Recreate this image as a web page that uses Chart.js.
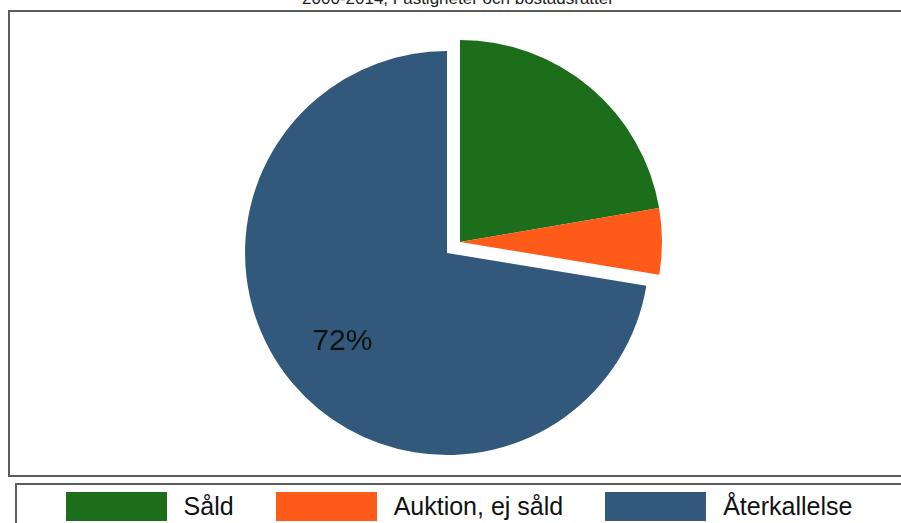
<!DOCTYPE html>
<html lang="sv">
<head>
<meta charset="utf-8">
<script src="https://cdn.jsdelivr.net/npm/chart.js@4"></script>
<style>
  html, body { margin: 0; padding: 0; background: #fff; overflow: hidden; }
  body { width: 901px; height: 523px; position: relative; font-family: "Liberation Sans", Arial, sans-serif; }
  #title { position: absolute; left: 0; width: 916px; top: -10px; text-align: center;
           font-size: 17px; line-height: 17px; color: #222; white-space: nowrap; }
  #plotFrame { position: absolute; left: 8px; top: 10px; width: 920px; height: 463px;
               border: 2px solid #5c5c5c; box-sizing: content-box; }
  #chartBox { position: absolute; left: 160px; top: 12px; width: 600px; height: 460px; }
  #legendFrame { position: absolute; left: 15px; top: 483px; width: 888px; height: 60px;
                 border: 2px solid #5c5c5c; border-right: none; border-bottom: none; }
  #legend { position: absolute; left: 15px; top: 492px; width: 888px; height: 29px;
            display: flex; justify-content: center; align-items: center; gap: 42px; }
  .item { display: flex; align-items: center; }
  .swatch { width: 101px; height: 29px; }
  .label { margin-left: 17px; font-size: 25px; color: #111; line-height: 29px; white-space: nowrap; }
</style>
</head>
<body>
<div id="title"></div>
<div id="plotFrame"></div>
<div id="chartBox"><canvas id="pie"></canvas></div>
<div id="legendFrame"></div>
<div id="legend"></div>

<script>
// Utfall av exekutiva auktioner, andelar i procent
const titleText = "2000-2014, Fastigheter och bostadsrätter";
const categories = ["Såld", "Auktion, ej såld", "Återkallelse"];
const shares = [22.3, 5.3, 72.4];
const sliceColors = ["#1c6e1a", "#fe5a1a", "#32587b"];
// how far each slice is pulled out from the centre, in pixels
const explode = [0, 0, 17];
const labelledSlice = 2;

document.getElementById("title").textContent = titleText;

// Legend row built from the category list
const legendEl = document.getElementById("legend");
categories.forEach((name, i) => {
  const item = document.createElement("div");
  item.className = "item";
  const sw = document.createElement("div");
  sw.className = "swatch";
  sw.style.background = sliceColors[i];
  const lb = document.createElement("span");
  lb.className = "label";
  lb.textContent = name;
  item.appendChild(sw);
  item.appendChild(lb);
  legendEl.appendChild(item);
});

// Draws each arc element shifted along its bisector, keeping its radius
const explodedSlices = {
  id: "explodedSlices",
  beforeDatasetDraw(chart, args) {
    const ctx = chart.ctx;
    args.meta.data.forEach((arc, i) => {
      const mid = (arc.startAngle + arc.endAngle) / 2;
      const d = explode[i] || 0;
      ctx.save();
      ctx.translate(Math.cos(mid) * d, Math.sin(mid) * d);
      arc.draw(ctx, chart.chartArea);
      ctx.restore();
    });
    return false;
  }
};

// Percentage label inside the exploded slice
const sliceLabel = {
  id: "sliceLabel",
  afterDatasetsDraw(chart) {
    const arc = chart.getDatasetMeta(0).data[labelledSlice];
    const total = shares.reduce((a, b) => a + b, 0);
    const pct = Math.round(shares[labelledSlice] / total * 100) + "%";
    const mid = (arc.startAngle + arc.endAngle) / 2;
    const dist = explode[labelledSlice] + 0.68 * arc.outerRadius;
    const ctx = chart.ctx;
    ctx.save();
    ctx.font = '30px "Liberation Sans", Arial, sans-serif';
    ctx.fillStyle = "#111";
    ctx.textAlign = "center";
    ctx.textBaseline = "middle";
    ctx.fillText(pct, arc.x + Math.cos(mid) * dist, arc.y + Math.sin(mid) * dist);
    ctx.restore();
  }
};

new Chart(document.getElementById("pie"), {
  type: "pie",
  data: {
    labels: categories,
    datasets: [{
      data: shares,
      backgroundColor: sliceColors,
      borderWidth: 0
    }]
  },
  options: {
    responsive: true,
    maintainAspectRatio: false,
    animation: false,
    radius: 202,
    layout: { padding: 0 },
    plugins: {
      legend: { display: false },
      tooltip: { enabled: false },
      title: { display: false }
    }
  },
  plugins: [explodedSlices, sliceLabel]
});
</script>
</body>
</html>
